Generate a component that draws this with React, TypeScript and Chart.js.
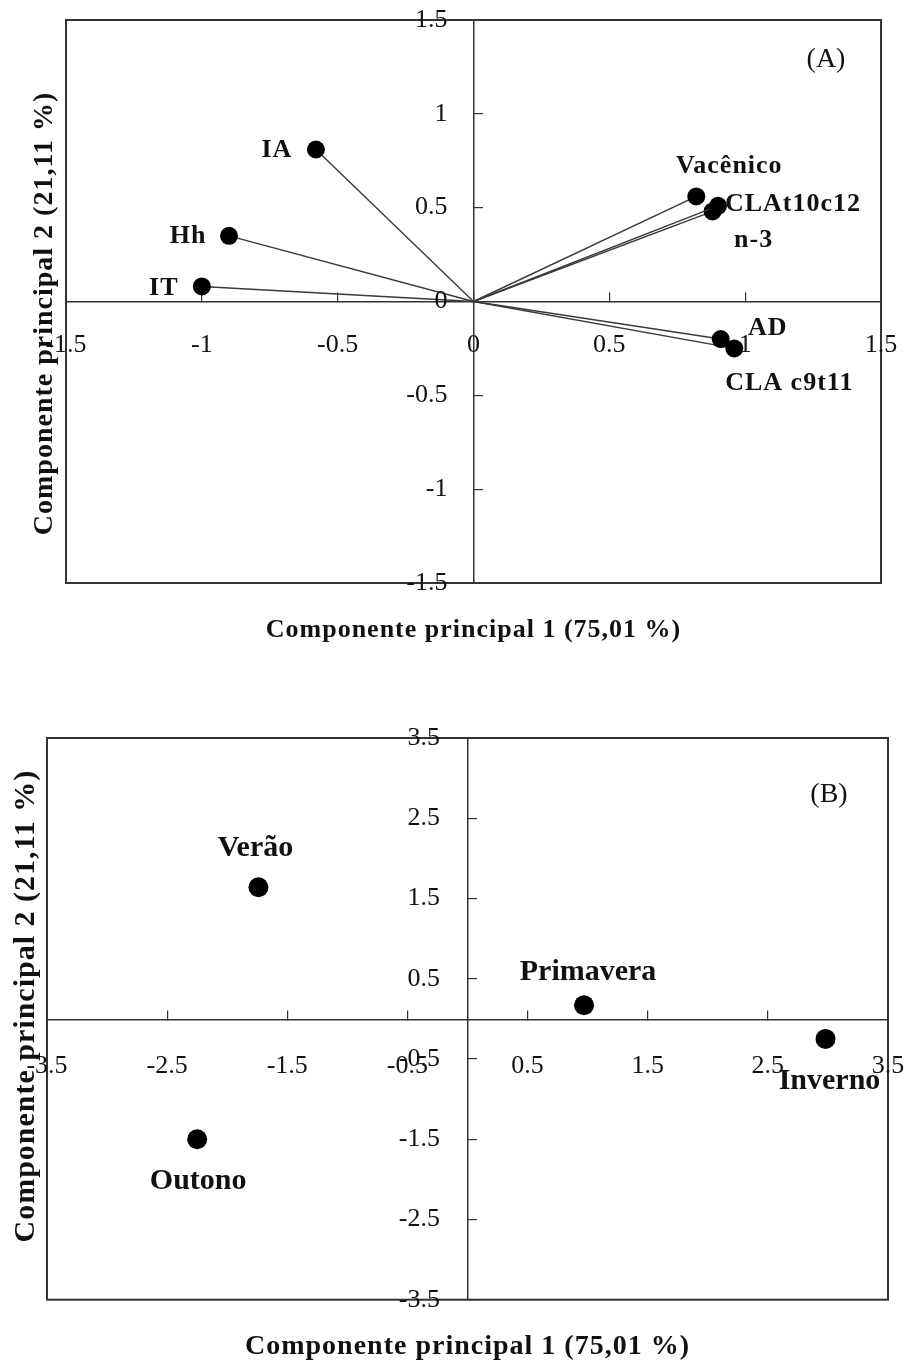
import React, { useEffect, useRef } from "react";
import { Chart, registerables } from "chart.js";

Chart.register(...registerables);

// ---------- DATA ----------
// (A) loadings of the variables on PC1 / PC2
const LOADING_NAMES = ["IA", "Hh", "IT", "Vacênico", "CLAt10c12", "n-3", "AD", "CLA c9t11"];
const LOADING_PC1 = [-0.58, -0.9, -1.0, 0.82, 0.9, 0.88, 0.91, 0.96];
const LOADING_PC2 = [0.81, 0.35, 0.08, 0.56, 0.51, 0.48, -0.2, -0.25];
const A_TICKS = [-1.5, -1, -0.5, 0, 0.5, 1, 1.5];

// (B) scores of the seasons on PC1 / PC2
const SEASON_NAMES = ["Verão", "Primavera", "Inverno", "Outono"];
const SEASON_PC1 = [-1.74, 0.97, 2.98, -2.25];
const SEASON_PC2 = [1.64, 0.17, -0.25, -1.5];
const B_TICKS = [-3.5, -2.5, -1.5, -0.5, 0.5, 1.5, 2.5, 3.5];

const X_TITLE = "Componente principal 1 (75,01 %)";
const Y_TITLE = "Componente principal 2 (21,11 %)";
const NB = "\u00A0\u00A0\u00A0";

// ---------- LAYOUT / STYLE ----------
const SERIF = "'Liberation Serif', 'Times New Roman', serif";
const INK = "#111";
const AXIS = "#333";

// label offsets (px) from each marker centre
const A_LABEL_OFFSETS = [
  [-39, 1],
  [-41, 0],
  [-38, 2],
  [33, -30],
  [75, -2],
  [41, 29],
  [47, -11],
  [55, 35],
];
const B_LABEL_OFFSETS = [
  [-3, -39],
  [4, -33],
  [4, 42],
  [1, 42],
];

const frameAndLabels = {
  id: "frameAndLabels",
  beforeDraw(chart: any, _a: any, opts: any) {
    chart.ctx.letterSpacing = opts.titleSpacing || "0px";
  },
  beforeDatasetsDraw(chart: any) {
    const { ctx, chartArea } = chart;
    ctx.letterSpacing = "0px";
    ctx.save();
    ctx.strokeStyle = AXIS;
    ctx.lineWidth = 2;
    ctx.strokeRect(chartArea.left, chartArea.top, chartArea.right - chartArea.left, chartArea.bottom - chartArea.top);
    ctx.restore();
  },
  afterDatasetsDraw(chart: any, _a: any, opts: any) {
    const { ctx, chartArea } = chart;
    ctx.save();
    ctx.fillStyle = INK;
    ctx.textAlign = "center";
    ctx.textBaseline = "middle";
    ctx.letterSpacing = opts.labelSpacing || "0px";
    ctx.font = opts.labelFont;
    const names: string[] = opts.names;
    const offsets: number[][] = opts.offsets;
    names.forEach((name, i) => {
      let el;
      if (opts.perDataset) {
        const meta = chart.getDatasetMeta(i);
        el = meta.data[meta.data.length - 1];
      } else {
        el = chart.getDatasetMeta(0).data[i];
      }
      if (!el) return;
      ctx.fillText(name, el.x + offsets[i][0], el.y + offsets[i][1]);
    });
    ctx.letterSpacing = "0px";
    ctx.font = opts.cornerFont;
    ctx.fillText(opts.corner, chartArea.right + opts.cornerPos[0], chartArea.top + opts.cornerPos[1]);
    ctx.restore();
  },
};

function axisScale(ticksList: number[], pad: number) {
  return {
    type: "linear",
    position: "center",
    min: ticksList[0],
    max: ticksList[ticksList.length - 1],
    afterBuildTicks: (s: any) => {
      s.ticks = ticksList.map((value) => ({ value }));
    },
    afterFit: (s: any) => {
      s.paddingTop = 0;
      s.paddingBottom = 0;
      s.paddingLeft = 0;
      s.paddingRight = 0;
    },
    ticks: {
      autoSkip: false,
      maxRotation: 0,
      minRotation: 0,
      padding: pad,
      color: INK,
      z: 1,
      font: { family: SERIF, size: 26 },
      callback: (v: any) => String(v),
    },
    grid: {
      display: true,
      drawOnChartArea: false,
      drawTicks: true,
      tickLength: -10,
      color: AXIS,
      lineWidth: 1.2,
    },
    border: { display: true, color: AXIS, width: 1.5 },
  } as any;
}

function buildA(canvas: HTMLCanvasElement) {
  const datasets = LOADING_NAMES.map((name, i) => ({
    label: name,
    data: [
      { x: 0, y: 0 },
      { x: LOADING_PC1[i], y: LOADING_PC2[i] },
    ],
    showLine: true,
    borderColor: "#3a3a3a",
    borderWidth: 1.4,
    pointRadius: (c: any) => (c.dataIndex === 0 ? 0 : 9),
    pointBackgroundColor: "#000",
    pointBorderColor: "#000",
    pointBorderWidth: 0,
  }));
  return new Chart(canvas, {
    type: "scatter",
    data: { datasets },
    plugins: [frameAndLabels],
    options: {
      animation: false,
      responsive: false,
      devicePixelRatio: 1,
      layout: { padding: { top: 20, right: 28, bottom: 0, left: 0 } },
      scales: {
        x: axisScale(A_TICKS, 38.4),
        y: axisScale(A_TICKS, 36),
      },
      plugins: {
        legend: { display: false },
        tooltip: { enabled: false },
        title: {
          display: true,
          text: X_TITLE,
          position: "bottom",
          fullSize: false,
          color: INK,
          font: { family: SERIF, size: 26, weight: "bold" },
          padding: { top: 31.4, bottom: 14.4 },
        },
        subtitle: {
          display: true,
          text: Y_TITLE + NB,
          position: "left",
          fullSize: false,
          color: INK,
          font: { family: SERIF, size: 28, weight: "bold" },
          padding: { top: 28.2, bottom: 4.2 },
        },
        frameAndLabels: {
          titleSpacing: "1px",
          names: LOADING_NAMES,
          offsets: A_LABEL_OFFSETS,
          perDataset: true,
          labelFont: `bold 26px ${SERIF}`,
          labelSpacing: "1px",
          corner: "(A)",
          cornerFont: `28px ${SERIF}`,
          cornerPos: [-55, 40],
        },
      } as any,
    },
  } as any);
}

function buildB(canvas: HTMLCanvasElement) {
  return new Chart(canvas, {
    type: "scatter",
    data: {
      datasets: [
        {
          label: "Estações",
          data: SEASON_NAMES.map((_, i) => ({ x: SEASON_PC1[i], y: SEASON_PC2[i] })),
          pointRadius: 10,
          pointBackgroundColor: "#000",
          pointBorderColor: "#000",
          pointBorderWidth: 0,
        },
      ],
    },
    plugins: [frameAndLabels],
    options: {
      animation: false,
      responsive: false,
      devicePixelRatio: 1,
      layout: { padding: { top: 58, right: 21, bottom: 0, left: 0 } },
      scales: {
        x: axisScale(B_TICKS, 41.4),
        y: axisScale(B_TICKS, 37.5),
      },
      plugins: {
        legend: { display: false },
        tooltip: { enabled: false },
        title: {
          display: true,
          text: X_TITLE,
          position: "bottom",
          fullSize: false,
          color: INK,
          font: { family: SERIF, size: 28, weight: "bold" },
          padding: { top: 30.7, bottom: 0 },
        },
        subtitle: {
          display: true,
          text: NB + Y_TITLE,
          position: "left",
          fullSize: false,
          color: INK,
          font: { family: SERIF, size: 30, weight: "bold" },
          padding: { top: 8, bottom: 3 },
        },
        frameAndLabels: {
          titleSpacing: "1px",
          names: SEASON_NAMES,
          offsets: B_LABEL_OFFSETS,
          perDataset: false,
          labelFont: `bold 30px ${SERIF}`,
          labelSpacing: "0px",
          corner: "(B)",
          cornerFont: `28px ${SERIF}`,
          cornerPos: [-59, 57],
        },
      } as any,
    },
  } as any);
}

export default function App() {
  const refA = useRef<HTMLCanvasElement | null>(null);
  const refB = useRef<HTMLCanvasElement | null>(null);

  useEffect(() => {
    const a = refA.current ? buildA(refA.current) : null;
    const b = refB.current ? buildB(refB.current) : null;
    return () => {
      a?.destroy();
      b?.destroy();
    };
  }, []);

  return (
    <div style={{ position: "absolute", left: 0, top: 0, width: 909, height: 1364, background: "#fff" }}>
      <canvas ref={refA} width={909} height={660} style={{ position: "absolute", left: 0, top: 0 }} />
      <canvas ref={refB} width={909} height={684} style={{ position: "absolute", left: 0, top: 680 }} />
    </div>
  );
}
